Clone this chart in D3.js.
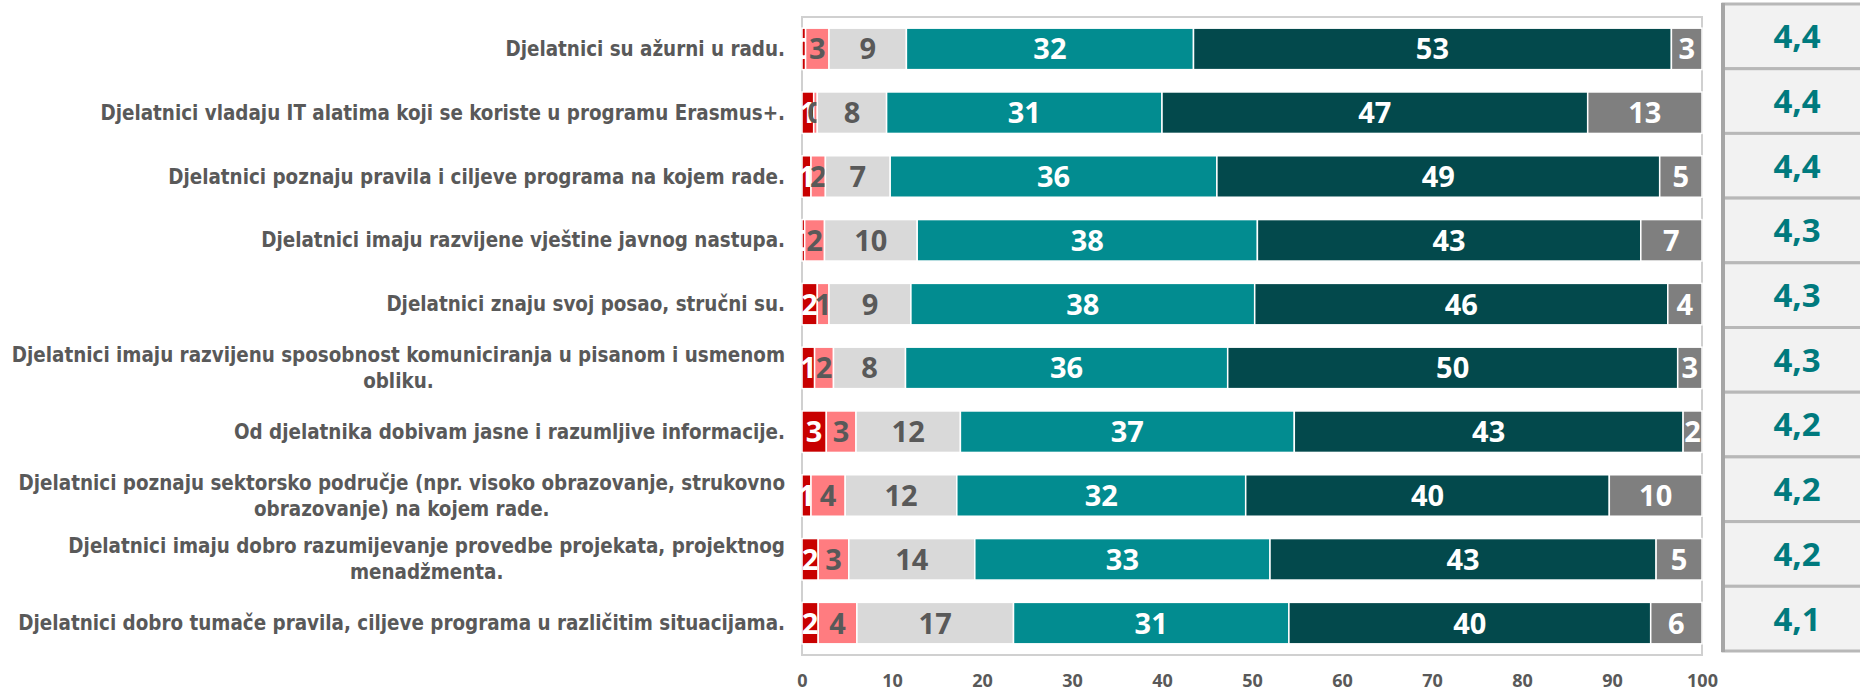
<!DOCTYPE html>
<html>
<head>
<meta charset="utf-8">
<script src="https://cdn.jsdelivr.net/npm/d3@7"></script>
<style>
  body { margin: 0; background: #fff; }
</style>
</head>
<body>
<div id="chart"></div>
<script>
// Data (percent of answers per statement)
const categories = [
  "Djelatnici su ažurni u radu.",
  "Djelatnici vladaju IT alatima koji se koriste u programu Erasmus+.",
  "Djelatnici poznaju pravila i ciljeve programa na kojem rade.",
  "Djelatnici imaju razvijene vještine javnog nastupa.",
  "Djelatnici znaju svoj posao, stručni su.",
  "Djelatnici imaju razvijenu sposobnost komuniciranja u pisanom i usmenom\nobliku.",
  "Od djelatnika dobivam jasne i razumljive informacije.",
  "Djelatnici poznaju sektorsko područje (npr. visoko obrazovanje, strukovno\nobrazovanje) na kojem rade.",
  "Djelatnici imaju dobro razumijevanje provedbe projekata, projektnog\nmenadžmenta.",
  "Djelatnici dobro tumače pravila, ciljeve programa u različitim situacijama."
];
const score1   = [0.4, 1.3, 1.0, 0.3, 1.7, 1.4, 2.7, 1.0, 1.8, 1.8];
const score2   = [2.6, 0.4, 1.6, 2.2, 1.3, 2.1, 3.3, 3.8, 3.4, 4.3];
const score3   = [8.6, 7.7, 7.2, 10.3, 9.1, 8.0, 11.6, 12.4, 14.0, 17.4];
const score4   = [31.9, 30.6, 36.3, 37.8, 38.2, 35.8, 37.1, 32.1, 32.8, 30.6];
const score5   = [53.1, 47.3, 49.2, 42.6, 45.9, 50.0, 43.2, 40.4, 42.9, 40.2];
const noAnswer = [3.4, 12.7, 4.7, 6.8, 3.8, 2.7, 2.1, 10.3, 5.1, 5.7];
const means    = [4.4, 4.4, 4.4, 4.3, 4.3, 4.3, 4.2, 4.2, 4.2, 4.1];
const xTicks   = [0, 10, 20, 30, 40, 50, 60, 70, 80, 90, 100];

const seriesKeys = ["s1", "s2", "s3", "s4", "s5", "na"];
const fills      = { s1: "#c80000", s2: "#ff7c80", s3: "#d9d9d9", s4: "#028c90", s5: "#03494c", na: "#7f7f7f" };
const textFills  = { s1: "#ffffff", s2: "#595959", s3: "#595959", s4: "#ffffff", s5: "#ffffff", na: "#ffffff" };

const rows = categories.map((c, i) => ({
  cat: c, s1: score1[i], s2: score2[i], s3: score3[i], s4: score4[i], s5: score5[i], na: noAnswer[i]
}));

// Dimensions
const width = 1860;
const height = 691;
const plotLeft = 802;
const plotRight = 1702;
const plotTop = 17;
const plotBottom = 655;
const labelRight = 785;
const boxLeft = 1723;

const svg = d3.select("#chart")
              .append("svg")
              .attr("width", width)
              .attr("height", height);

const xScale = d3.scaleLinear().domain([0, 100]).range([plotLeft, plotRight]);
const yScale = d3.scaleBand()
                 .domain(categories)
                 .range([plotTop, plotBottom])
                 .paddingInner(0.35)
                 .paddingOuter(0.175);

// plot frame
svg.append("rect")
   .attr("x", plotLeft)
   .attr("y", plotTop)
   .attr("width", plotRight - plotLeft)
   .attr("height", plotBottom - plotTop)
   .attr("fill", "none")
   .attr("stroke", "#d0d0d0")
   .attr("stroke-width", 2);

// stacked bars
const stacked = d3.stack().keys(seriesKeys)(rows);

const layers = svg.selectAll("g.layer")
                  .data(stacked)
                  .enter()
                  .append("g")
                  .attr("class", "layer");

layers.selectAll("rect")
      .data(s => s.map(d => ({ key: s.key, d: d })))
      .enter()
      .append("rect")
      .attr("x", p => xScale(p.d[0]))
      .attr("y", p => yScale(p.d.data.cat))
      .attr("width", p => xScale(p.d[1]) - xScale(p.d[0]))
      .attr("height", yScale.bandwidth())
      .attr("fill", p => fills[p.key])
      .attr("stroke", "#ffffff")
      .attr("stroke-width", 1.5);

layers.selectAll("text")
      .data(s => s.map(d => ({ key: s.key, d: d })))
      .enter()
      .append("text")
      .attr("x", p => (xScale(p.d[0]) + xScale(p.d[1])) / 2)
      .attr("y", p => yScale(p.d.data.cat) + yScale.bandwidth() / 2)
      .attr("dy", "0.36em")
      .attr("text-anchor", "middle")
      .attr("font-family", "'Open Sans', sans-serif")
      .attr("font-weight", 700)
      .attr("font-size", 29)
      .attr("fill", p => textFills[p.key])
      .text(p => Math.round(p.d.data[p.key]));

// category labels (lines centred, block right-aligned)
const lineH = 26;
const labelG = svg.append("g")
                  .attr("font-family", "'DejaVu Sans Condensed', 'DejaVu Sans', sans-serif")
                  .attr("font-stretch", "condensed")
                  .attr("font-weight", 700)
                  .attr("font-size", 20.4)
                  .attr("fill", "#595959");

categories.forEach(c => {
  const lines = c.split("\n");
  const t = labelG.append("text").attr("text-anchor", "middle");
  lines.forEach((ln, j) => {
    t.append("tspan")
     .attr("x", 0)
     .attr("y", (j - (lines.length - 1) / 2) * lineH)
     .attr("dy", "0.35em")
     .text(ln);
  });
  const w = d3.max(t.selectAll("tspan").nodes(), n => n.getComputedTextLength());
  t.attr("transform", `translate(${labelRight - w / 2},${yScale(c) + yScale.bandwidth() / 2})`);
});

// x axis
const xAxis = d3.axisBottom(xScale).tickValues(xTicks).tickSize(0).tickPadding(19);
const axisG = svg.append("g")
                 .attr("transform", `translate(0,${plotBottom})`)
                 .call(xAxis);
axisG.select(".domain").remove();
axisG.selectAll("text")
     .attr("font-family", "'Open Sans', sans-serif")
     .attr("font-weight", 700)
     .attr("font-size", 18)
     .attr("fill", "#595959");

// mean score boxes on the right
const boxScale = d3.scaleBand().domain(categories).range([4, 651]);
const fmtMean = v => d3.format(".1f")(v).replace(".", ",");

svg.selectAll("rect.mean-box")
   .data(categories)
   .enter()
   .append("rect")
   .attr("class", "mean-box")
   .attr("x", boxLeft)
   .attr("y", c => boxScale(c))
   .attr("width", 220)
   .attr("height", boxScale.bandwidth())
   .attr("fill", "#f2f2f2")
   .attr("stroke", "#b8b8b8")
   .attr("stroke-width", 3);

svg.append("line")
   .attr("x1", boxLeft)
   .attr("x2", boxLeft)
   .attr("y1", 3)
   .attr("y2", 652)
   .attr("stroke", "#a6a6a6")
   .attr("stroke-width", 4);

svg.selectAll("text.mean")
   .data(categories)
   .enter()
   .append("text")
   .attr("class", "mean")
   .attr("x", 1797)
   .attr("y", c => boxScale(c) + boxScale.bandwidth() / 2)
   .attr("dy", "0.36em")
   .attr("text-anchor", "middle")
   .attr("font-family", "'Open Sans', sans-serif")
   .attr("font-weight", 700)
   .attr("font-size", 33)
   .attr("fill", "#007a7e")
   .text((c, i) => fmtMean(means[i]));
</script>
</body>
</html>
